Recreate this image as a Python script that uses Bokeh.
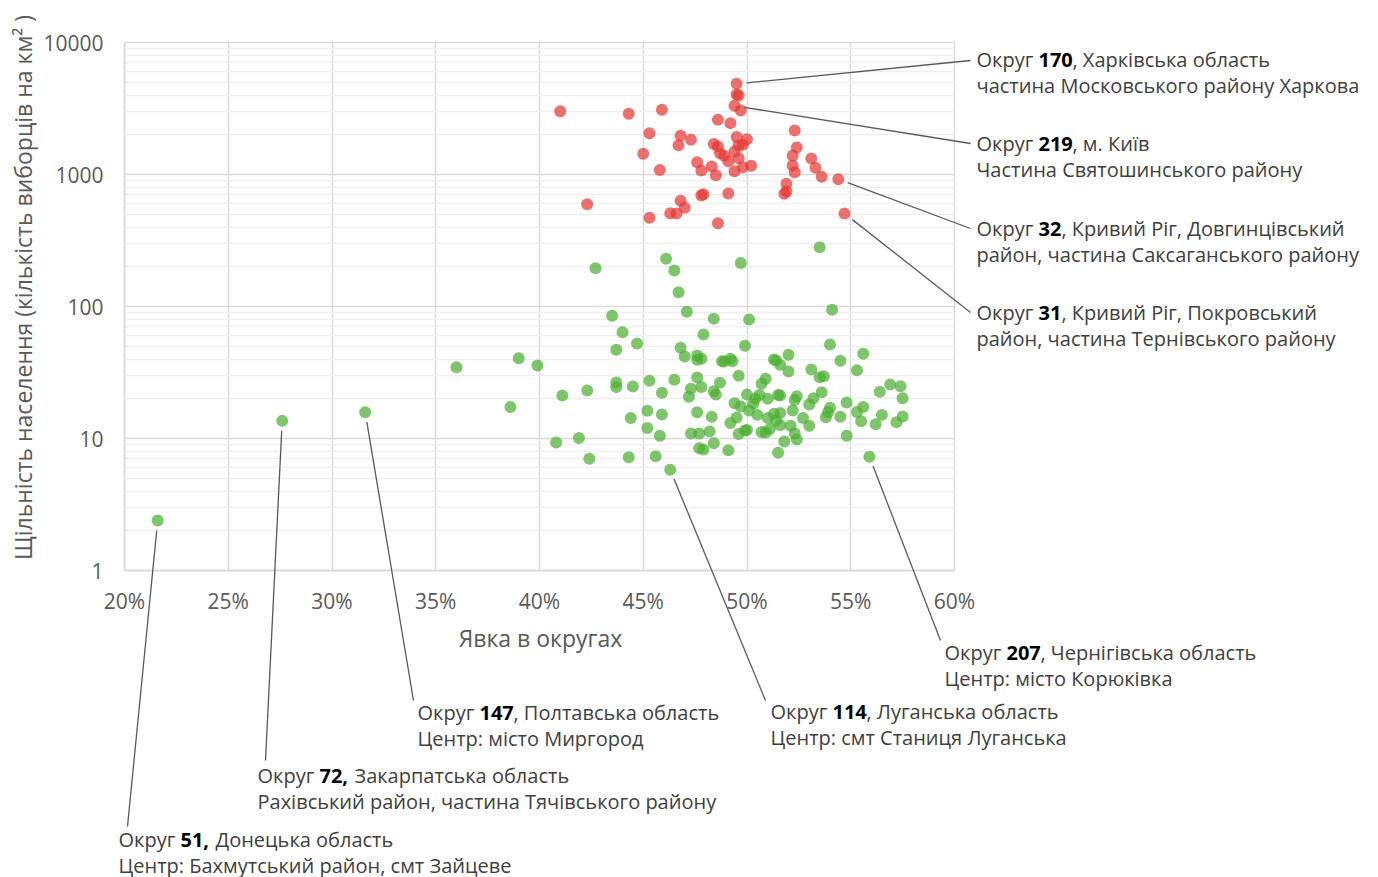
import math
from bokeh.plotting import figure
from bokeh.models import Range1d, FixedTicker, PrintfTickFormatter, Label, Arrow
from bokeh.embed import file_html
from bokeh.resources import INLINE

# ---------------- data ----------------
red_turnout = [41.0, 44.3, 45.9, 45.3, 45.0, 45.8, 42.3, 45.3, 46.8, 47.3,
               46.7, 47.6, 47.8, 48.3, 48.5, 48.6, 49.2, 49.5, 49.5, 49.6,
               49.4, 49.7, 48.4, 48.6, 48.7, 48.9, 49.1, 49.4, 49.5, 50.0,
               49.6, 49.8, 49.6, 49.8, 49.4, 50.2, 46.8, 47.0, 46.3, 46.6,
               47.8, 47.9, 49.1, 48.6, 52.3, 52.4, 52.2, 53.1, 53.3, 52.2,
               52.3, 53.6, 54.4, 51.9, 51.9, 51.8, 54.7]
red_density = [3020, 2880, 3090, 2050, 1435, 1080, 596, 470, 1965, 1830,
               1665, 1240, 1070, 1150, 988, 2600, 2450, 4860, 4040, 3970,
               3315, 3055, 1700, 1630, 1450, 1385, 1260, 1495, 1920, 1850,
               1660, 1680, 1330, 1135, 1060, 1165, 632, 560, 509, 507,
               693, 709, 718, 428, 2155, 1600, 1395, 1320, 1125, 1170,
               1040, 961, 921, 851, 743, 714, 507]

green_turnout = [42.7, 46.1, 46.5, 46.7, 49.7, 53.5, 54.1, 43.5, 44.0, 43.7,
                 44.7, 47.1, 48.4, 50.1, 47.9, 46.8, 47.0, 47.6, 47.8, 47.6,
                 49.9, 48.8, 48.9, 49.2, 49.3, 51.3, 51.4, 51.6, 52.0, 52.0,
                 54.0, 54.5, 55.6, 55.3, 53.1, 53.5, 53.7,
                 41.1, 42.3,
                 43.7, 43.7, 44.5, 45.3, 46.5, 45.9, 47.6, 47.3, 47.8, 47.2,
                 48.4, 48.5, 48.7, 49.6, 50.9, 50.7, 50.0, 50.6, 50.4, 51.0,
                 51.5, 51.6, 52.4, 52.3, 53.6, 53.2, 53.0, 54.8, 56.4, 56.9,
                 57.4, 57.5, 55.6, 55.3, 56.5, 57.5, 57.2, 56.2, 55.5, 54.0,
                 53.9, 53.8, 54.5, 54.8, 55.9, 49.4, 49.7, 50.1, 50.3, 50.5,
                 51.0, 51.3, 51.6, 52.2, 52.7, 53.0, 52.1, 51.6, 51.4, 51.1,
                 50.7, 50.9, 49.9, 50.0, 49.6, 52.3, 52.4, 51.8, 51.5, 49.2,
                 49.5, 48.3, 47.6, 48.2, 47.3, 47.7, 48.4, 47.7, 47.9, 49.1,
                 45.2, 45.9, 44.4, 45.2, 45.8, 40.8, 41.9, 42.4, 44.3, 45.6,
                 46.3, 36.0, 39.0, 39.9, 38.6, 31.6, 27.6, 21.6]
green_density = [195, 230, 187, 128, 214, 281, 94.4, 85.1, 63.9, 47.0,
                 52.5, 91.2, 80.7, 79.7, 61.4, 48.6, 41.8, 42.6, 40.2, 39.5,
                 50.4, 38.5, 38.3, 40.2, 38.5, 39.7, 39.0, 36.2, 43.1, 32.2,
                 51.5, 38.8, 43.8, 32.9, 33.3, 29.1, 29.6,
                 21.2, 23.1,
                 26.6, 24.5, 24.8, 27.4, 27.9, 22.2, 29.0, 23.8, 24.6, 20.7,
                 22.8, 21.5, 26.4, 29.9, 28.3, 26.0, 21.5, 21.4, 20.0, 20.0,
                 21.4, 21.2, 20.9, 19.6, 22.4, 20.2, 18.1, 18.7, 22.6, 25.7,
                 24.9, 20.2, 17.3, 15.9, 15.1, 14.7, 13.3, 12.8, 13.5, 17.1,
                 15.8, 14.5, 14.6, 10.5, 7.27, 18.5, 17.5, 16.3, 18.3, 15.1,
                 14.3, 15.4, 15.6, 16.3, 14.3, 12.5, 12.5, 12.6, 13.7, 11.8,
                 11.2, 11.1, 11.5, 11.6, 10.8, 10.9, 9.83, 9.49, 7.79, 13.1,
                 14.4, 14.6, 15.8, 11.3, 10.9, 10.9, 9.21, 8.45, 8.25, 8.15,
                 16.2, 15.2, 14.3, 12.0, 10.5, 9.33, 10.1, 7.02, 7.22, 7.34,
                 5.79, 34.7, 40.6, 35.7, 17.3, 15.8, 13.6, 2.39]

x_ticks = [20, 25, 30, 35, 40, 45, 50, 55, 60]
y_ticks = [1, 10, 100, 1000, 10000]
y_minor = [m * 10 ** k for k in range(4) for m in range(2, 10)]

x_title = "Явка в округах"
y_title = "Щільність населення (кількість виборців на км² )"

ann_district = ["170", "219", "32", "31", "207", "114", "147", "72,", "51,"]
ann_turnout = [49.5, 49.4, 54.4, 54.7, 55.9, 46.3, 31.6, 27.6, 21.6]
ann_density = [4860, 3315, 921, 507, 7.27, 5.79, 15.8, 13.6, 2.39]
ann_rest = [", Харківська область", ", м. Київ", ", Кривий Ріг, Довгинцівський",
            ", Кривий Ріг, Покровський", ", Чернігівська область", ", Луганська область",
            ", Полтавська область", "Закарпатська область", "Донецька область"]
ann_line2 = ["частина Московського району Харкова", "Частина Святошинського району",
             "район, частина Саксаганського району", "район, частина Тернівського району",
             "Центр: місто Корюківка", "Центр: смт Станиця Луганська",
             "Центр: місто Миргород", "Рахівський район, частина Тячівського району",
             "Центр: Бахмутський район, смт Зайцеве"]

# ---------------- layout (page pixels) ----------------
W, H = 1378, 877
P_LEFT, P_RIGHT, P_TOP, P_BOTTOM = 124, 954, 42, 570   # plot area on the canvas
ann_text_x = [976, 976, 976, 976, 944, 770, 417, 257, 118]
ann_text_y = [59, 143, 228, 312, 652, 711, 712, 775, 839]     # first baseline
ann_end_x = [970, 970, 970, 970, 940, 765, 413, 265, 127]
ann_end_y = [60, 143, 228, 312, 640, 700, 700, 760, 826]
LINE_GAP = 25.5
W_OKRUG = 62
BOLD_W = {2: 23, 3: 34}
COMMA_SPACE = 12
GAP = 10

FONT = "Open Sans"
TXT = "#404040"
GREY = "#595959"
GRID = "#d9d9d9"
MINOR = "#efefef"

px_pct = (P_RIGHT - P_LEFT) / (x_ticks[-1] - x_ticks[0])
px_dec = (P_BOTTOM - P_TOP) / math.log10(y_ticks[-1] / y_ticks[0])
x0 = x_ticks[0] - P_LEFT / px_pct
x1 = x_ticks[-1] + (W - P_RIGHT) / px_pct
y0 = y_ticks[0] * 10 ** (-(H - P_BOTTOM) / px_dec)
y1 = y_ticks[-1] * 10 ** (P_TOP / px_dec)

p = figure(width=W, height=H, x_range=Range1d(x0, x1), y_range=Range1d(y0, y1),
           y_axis_type="log", output_backend="svg", toolbar_location=None,
           min_border=0, min_border_left=0, min_border_right=0,
           min_border_top=0, min_border_bottom=0)
p.outline_line_color = None
p.background_fill_color = "white"
p.border_fill_color = "white"

# axes placed at the edges of the plot area
p.xaxis.fixed_location = y_ticks[0]
p.yaxis.fixed_location = x_ticks[0]
p.xaxis.bounds = (x_ticks[0], x_ticks[-1])
p.yaxis.bounds = (y_ticks[0], y_ticks[-1])
p.xaxis.ticker = FixedTicker(ticks=x_ticks)
p.xaxis.formatter = PrintfTickFormatter(format="%d%%")
p.yaxis.ticker = FixedTicker(ticks=y_ticks, minor_ticks=y_minor)
p.yaxis.formatter = PrintfTickFormatter(format="%d")
for ax in (p.xaxis[0], p.yaxis[0]):
    ax.major_tick_line_color = None
    ax.minor_tick_line_color = None
    ax.axis_line_color = GRID
    ax.axis_line_width = 1.5
    ax.major_label_text_font = FONT
    ax.major_label_text_font_size = "21px"
    ax.major_label_text_color = GREY
p.xaxis.major_label_standoff = 10
p.yaxis.major_label_standoff = 15

p.xgrid.ticker = FixedTicker(ticks=x_ticks)
p.ygrid.ticker = FixedTicker(ticks=y_ticks, minor_ticks=y_minor)
p.xgrid.bounds = (x_ticks[0] - 0.01, x_ticks[-1] + 0.01)
p.xgrid.cross_bounds = (y_ticks[0], y_ticks[-1])
p.ygrid.bounds = (y_ticks[0] * 0.999, y_ticks[-1] * 1.001)
p.ygrid.cross_bounds = (x_ticks[0], x_ticks[-1])
p.xgrid.grid_line_color = GRID
p.xgrid.grid_line_width = 1.5
p.ygrid.grid_line_color = GRID
p.ygrid.grid_line_width = 1.5
p.ygrid.minor_grid_line_color = MINOR
p.ygrid.minor_grid_line_width = 1.5

# axis titles
p.add_layout(Label(x=540, y=H - 637, text=x_title, x_units="screen", y_units="screen",
                   text_font=FONT, text_font_size="23px", text_color=GREY,
                   text_align="center", text_baseline="middle"))
p.add_layout(Label(x=22, y=H - 287, text=y_title, x_units="screen", y_units="screen",
                   angle=math.pi / 2, text_font=FONT, text_font_size="23px", text_color=GREY,
                   text_align="center", text_baseline="middle"))

p.scatter(green_turnout, green_density, size=12, fill_color="#4CAF32",
          fill_alpha=0.72, line_color=None)
p.scatter(red_turnout, red_density, size=12, fill_color="#E53935",
          fill_alpha=0.72, line_color=None)

# leader lines and labels
for i in range(len(ann_district)):
    px = P_LEFT + (ann_turnout[i] - x_ticks[0]) * px_pct
    py = P_BOTTOM - math.log10(ann_density[i] / y_ticks[0]) * px_dec
    dx, dy = ann_end_x[i] - px, ann_end_y[i] - py
    d = math.hypot(dx, dy)
    sx, sy = px + GAP * dx / d, py + GAP * dy / d
    p.add_layout(Arrow(end=None,
                       x_start=x_ticks[0] + (sx - P_LEFT) / px_pct,
                       y_start=y_ticks[0] * 10 ** ((P_BOTTOM - sy) / px_dec),
                       start_units="data",
                       x_end=ann_end_x[i], y_end=H - ann_end_y[i], end_units="screen",
                       line_color=GREY, line_width=1.3))

    tx, ty = ann_text_x[i], H - ann_text_y[i]
    ndig = sum(c.isdigit() for c in ann_district[i])
    bw = BOLD_W[ndig] + (COMMA_SPACE if ann_district[i].endswith(",") else 0)
    common = dict(x_units="screen", y_units="screen", text_font=FONT,
                  text_font_size="20px", text_baseline="alphabetic", text_align="left")
    p.add_layout(Label(x=tx, y=ty, text="Округ ", text_color=TXT, **common))
    p.add_layout(Label(x=tx + W_OKRUG, y=ty, text=ann_district[i], text_color="#000000",
                       text_font_style="bold", **common))
    p.add_layout(Label(x=tx + W_OKRUG + bw, y=ty, text=ann_rest[i], text_color=TXT, **common))
    p.add_layout(Label(x=tx, y=ty - LINE_GAP, text=ann_line2[i], text_color=TXT, **common))

open("out.html", "w").write(file_html(p, INLINE))
